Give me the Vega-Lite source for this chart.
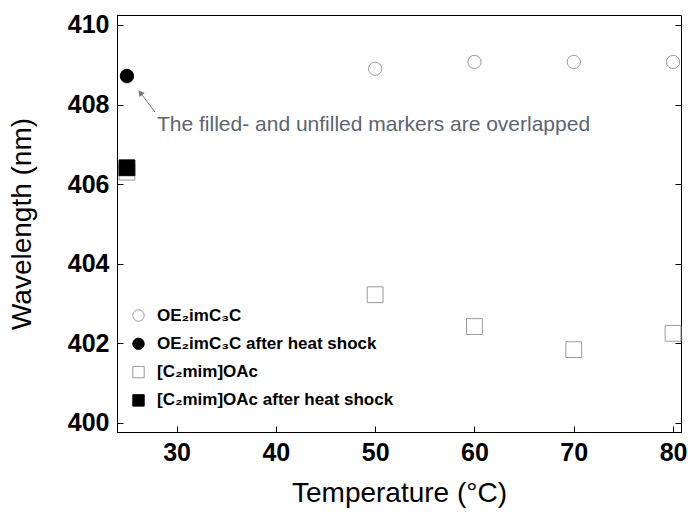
{
  "$schema": "https://vega.github.io/schema/vega-lite/v6.json",
  "width": 564,
  "height": 417,
  "autosize": "none",
  "padding": {"left": 117, "top": 15, "right": 7, "bottom": 83},
  "background": "white",
  "config": {
    "view": {"stroke": "black", "strokeWidth": 1},
    "font": "Liberation Sans",
    "axis": {
      "grid": false,
      "domainColor": "black",
      "tickColor": "black",
      "tickSize": -6,
      "labelFont": "Liberation Sans",
      "labelFontSize": 25,
      "labelFontWeight": "bold",
      "labelColor": "black",
      "titleFont": "Liberation Sans",
      "titleFontSize": 28,
      "titleFontWeight": "normal",
      "titleColor": "black"
    },
    "legend": {
      "orient": "none", "legendX": 13, "legendY": 292, "title": null,
      "labelFontSize": 17, "labelFontWeight": "bold", "labelFont": "Liberation Sans",
      "labelColor": "black", "labelLimit": 400, "rowPadding": 10.3, "symbolSize": 130,
      "symbolStrokeWidth": 1, "labelOffset": 10, "padding": 0
    }
  },
  "resolve": {"scale": {"y": "independent"}},
  "layer": [
    {
      "data": {
        "values": [
          {"series": "OE₂imC₃C", "temp": 25, "wl": 408.7},
          {"series": "OE₂imC₃C", "temp": 50, "wl": 408.9},
          {"series": "OE₂imC₃C", "temp": 60, "wl": 409.07},
          {"series": "OE₂imC₃C", "temp": 70, "wl": 409.07},
          {"series": "OE₂imC₃C", "temp": 80, "wl": 409.07},
          {"series": "OE₂imC₃C after heat shock", "temp": 25, "wl": 408.72}
        ]
      },
      "mark": {"type": "point", "filled": true, "strokeWidth": 1, "opacity": 1, "clip": false, "size": 175},
      "encoding": {
        "x": {
          "field": "temp", "type": "quantitative",
          "scale": {"domain": [24.0, 80.8], "nice": false, "zero": false},
          "axis": {"values": [30, 40, 50, 60, 70, 80], "labelPadding": 14, "labelFlush": false, "title": "Temperature (°C)", "titlePadding": 14}
        },
        "y": {
          "field": "wl", "type": "quantitative",
          "scale": {"domain": [399.77, 410.25], "nice": false, "zero": false},
          "axis": {"values": [400, 402, 404, 406, 408, 410], "labelPadding": 14, "labelFlush": false, "title": "Wavelength (nm)", "titlePadding": 31}
        },
        "shape": {
          "field": "series", "type": "nominal",
          "scale": {"domain": ["OE₂imC₃C", "OE₂imC₃C after heat shock", "[C₂mim]OAc", "[C₂mim]OAc after heat shock"], "range": ["circle", "circle", "square", "square"]}
        },
        "fill": {
          "field": "series", "type": "nominal",
          "scale": {"domain": ["OE₂imC₃C", "OE₂imC₃C after heat shock", "[C₂mim]OAc", "[C₂mim]OAc after heat shock"], "range": ["white", "black", "white", "black"]}
        },
        "stroke": {
          "field": "series", "type": "nominal",
          "scale": {"domain": ["OE₂imC₃C", "OE₂imC₃C after heat shock", "[C₂mim]OAc", "[C₂mim]OAc after heat shock"], "range": ["#9a9a9a", "black", "#9a9a9a", "black"]}
        }
      }
    },
    {
      "data": {
        "values": [
          {"series": "[C₂mim]OAc", "temp": 25, "wl": 406.3},
          {"series": "[C₂mim]OAc", "temp": 50, "wl": 403.22},
          {"series": "[C₂mim]OAc", "temp": 60, "wl": 402.42},
          {"series": "[C₂mim]OAc", "temp": 70, "wl": 401.84},
          {"series": "[C₂mim]OAc", "temp": 80, "wl": 402.25},
          {"series": "[C₂mim]OAc after heat shock", "temp": 25, "wl": 406.41}
        ]
      },
      "mark": {"type": "point", "filled": true, "strokeWidth": 1, "opacity": 1, "clip": false, "size": 250},
      "encoding": {
        "x": {"field": "temp", "type": "quantitative"},
        "y": {"field": "wl", "type": "quantitative", "scale": {"domain": [399.77, 410.25], "nice": false, "zero": false}, "axis": null},
        "shape": {"field": "series", "type": "nominal"},
        "fill": {"field": "series", "type": "nominal"},
        "stroke": {"field": "series", "type": "nominal"}
      }
    },
    {
      "data": {"values": [{}]},
      "mark": {"type": "rule", "color": "#7a7a7a", "strokeWidth": 1},
      "encoding": {
        "x": {"datum": 27.83, "type": "quantitative"},
        "y": {"datum": 407.81, "type": "quantitative", "scale": {"domain": [399.77, 410.25], "nice": false, "zero": false}, "axis": null},
        "x2": {"datum": 26.4},
        "y2": {"datum": 408.28}
      }
    },
    {
      "data": {"values": [{}]},
      "mark": {"type": "point", "shape": "triangle", "filled": true, "color": "#7a7a7a", "size": 45, "angle": 323, "opacity": 1},
      "encoding": {
        "x": {"datum": 26.4, "type": "quantitative"},
        "y": {"datum": 408.28, "type": "quantitative", "scale": {"domain": [399.77, 410.25], "nice": false, "zero": false}, "axis": null}
      }
    },
    {
      "data": {"values": [{}]},
      "mark": {"type": "text", "align": "left", "baseline": "middle", "fontSize": 21, "font": "Liberation Sans", "color": "#5b6470", "text": "The filled- and unfilled markers are overlapped"},
      "encoding": {
        "x": {"datum": 28.03, "type": "quantitative"},
        "y": {"datum": 407.49, "type": "quantitative", "scale": {"domain": [399.77, 410.25], "nice": false, "zero": false},
          "axis": {"orient": "right", "values": [400, 402, 404, 406, 408, 410], "labels": false, "title": null, "domain": false}}
      }
    }
  ]
}
